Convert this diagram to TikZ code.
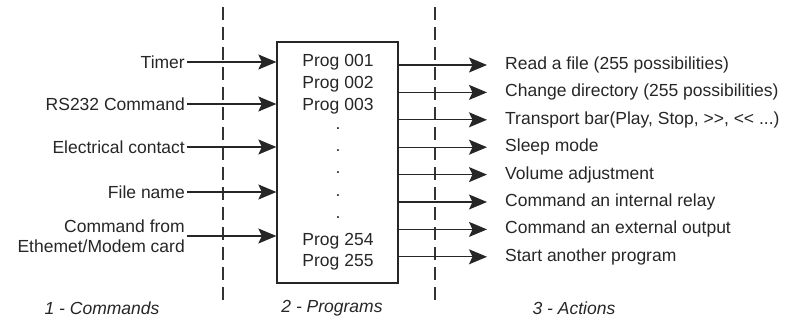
\documentclass[tikz,border=0pt]{standalone}
\usepackage{fontspec}
\setmainfont{Liberation Sans}
\usetikzlibrary{arrows.meta}

\tikzset{
  lbl/.style={inner sep=2pt, text=black!85},
  sep/.style={black!80, line width=1.2pt, dash pattern=on 13pt off 7pt},
  tip/.tip={Stealth[length=18pt,width=15pt,inset=3.5pt]},
  flow/.style={-tip, line width=1.3pt, black!85}
}

\begin{document}
\begin{tikzpicture}[x=1pt, y=-1pt, font=\fontsize{17.5}{20}\selectfont]
      \useasboundingbox (0,0) rectangle (796,322);
      \draw[sep] (223,7) -- (223,303);
      \draw[sep] (435,7) -- (435,303);
      \node[draw, line width=1.3pt, black!85, minimum width=121pt, minimum height=241pt, inner sep=0pt]
        (box) at (337.5,162.5) {};
      \draw
        (187,62) node[lbl, anchor=east] (t1){Timer}
        (187,104) node[lbl, anchor=east] (t2){RS232 Command}
        (187,147) node[lbl, anchor=east] (t3){Electrical contact}
        (187,192) node[lbl, anchor=east] (t4){File name}
        (187,236) node[lbl, anchor=east, align=right] (t5){Command from\\Ethemet/Modem card};
      \draw
        (338,62) node[lbl] (p1){Prog 001}
        (338,84) node[lbl] (p2){Prog 002}
        (338,106) node[lbl] (p3){Prog 003}
        (338,129) node[lbl] (d1){.}
        (338,151) node[lbl] (d2){.}
        (338,173) node[lbl] (d3){.}
        (338,196) node[lbl] (d4){.}
        (338,218) node[lbl] (d5){.}
        (338,241) node[lbl] (p4){Prog 254}
        (338,262) node[lbl] (p5){Prog 255};
      \draw
        (503,65) node[lbl, anchor=west] (a1){Read a file (255 possibilities)}
        (503,92.4) node[lbl, anchor=west] (a2){Change directory (255 possibilities)}
        (503,119.8) node[lbl, anchor=west] (a3){Transport bar(Play, Stop, >\kern0pt>, <\kern0pt< ...)}
        (503,147.2) node[lbl, anchor=west] (a4){Sleep mode}
        (503,174.6) node[lbl, anchor=west] (a5){Volume adjustment}
        (503,202) node[lbl, anchor=west] (a6){Command an internal relay}
        (503,229.4) node[lbl, anchor=west] (a7){Command an external output}
        (503,256.8) node[lbl, anchor=west] (a8){Start another program};
      \draw
        (102,308) node[lbl, font=\fontsize{17.5}{20}\selectfont\itshape] (c1){1 - Commands}
        (332,308) node[lbl, font=\fontsize{17.5}{20}\selectfont\itshape] (c2){2 - Programs}
        (574,308) node[lbl, font=\fontsize{17.5}{20}\selectfont\itshape] (c3){3 - Actions};
      \begin{scope}[flow]
        \foreach \i in {1,...,5}
          \draw (t\i.east) -- (t\i.east -| box.west);
        \foreach \i in {1,...,8}
          \draw[shorten >=16pt] (a\i.west -| box.east) -- (a\i.west);
      \end{scope}
    \end{tikzpicture}
\end{document}
